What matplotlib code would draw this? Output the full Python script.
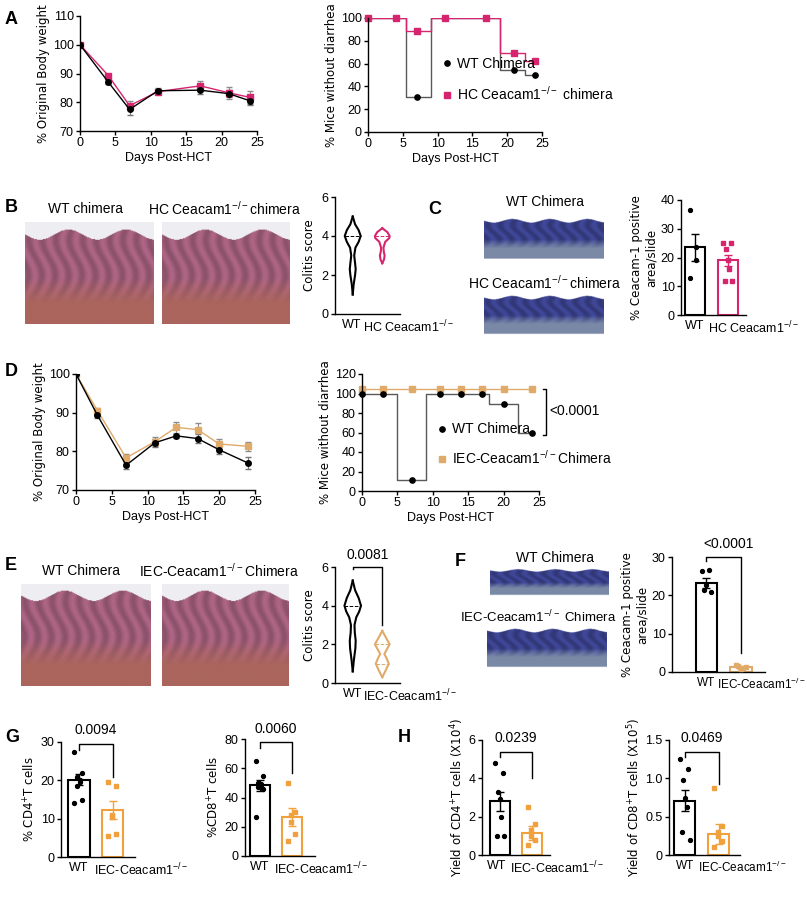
import numpy as np
import matplotlib
matplotlib.use('Agg')
from matplotlib import pyplot as plt

plt.rcParams['font.family'] = ['Liberation Sans', 'DejaVu Sans']
plt.rcParams['font.size'] = 9
plt.rcParams['axes.linewidth'] = 1.0

W, H = 807, 900
PINK = '#d6246e'
TAN = '#e0aa6a'
ORANGE = '#f0a03c'
SUP = '$^{\\mathregular{-/-}}$'
KO = 'IEC-Ceacam1' + SUP
HCKO = 'HC Ceacam1' + SUP

# ---- A: body weight + diarrhea (HC) ----
a_days = [0, 4, 7, 11, 17, 21, 24]
a_wt = [100, 87, 77.5, 84, 84.2, 83, 80.5]
a_wt_err = [0, 0.7, 2.0, 0.8, 1.5, 1.3, 1.5]
a_hc = [100, 89.3, 78.8, 83.7, 85.7, 83.3, 81.7]
a_hc_err = [0, 0.6, 1.6, 1.0, 1.8, 2.0, 2.3]
a_km_t = [0, 5.5, 9, 19, 22.5, 24]
a_km_wt = [100, 31, 100, 54, 50, 50]
a_km_hc = [100, 89, 100, 69, 62.5, 62.5]
a_mk_wt = [100, 100, 31, 100, 100, 54, 50]
a_mk_hc = [100, 100, 89, 100, 100, 69, 62.5]

# ---- D: body weight + diarrhea (IEC) ----
d_days = [0, 3, 7, 11, 14, 17, 20, 24]
d_wt = [100, 89.3, 76.4, 82.2, 84, 83.3, 80.4, 77]
d_wt_err = [0, 0.6, 1.0, 1.0, 0.6, 1.2, 1.2, 1.6]
d_iec = [100, 90.5, 78.3, 82.5, 86.2, 85.6, 81.9, 81.3]
d_iec_err = [0, 0.8, 1.1, 1.2, 1.4, 1.8, 1.4, 1.2]
d_km_t = [0, 5, 9, 18, 22, 24]
d_km_wt = [100, 11, 100, 89, 59, 59]
d_km_iec = [105, 105, 105, 105, 105, 105]
d_mk_wt = [100, 100, 11, 100, 100, 100, 89, 59]
d_mk_iec = [105] * 8

# ---- violin outlines (level, half width) ----
b_wt_y = [1.0, 1.5, 2.0, 2.3, 2.6, 3.0, 3.4, 3.7, 4.0, 4.3, 4.6, 5.0]
b_wt_w = [0, 0.03, 0.08, 0.1, 0.08, 0.05, 0.09, 0.2, 0.27, 0.2, 0.08, 0]
b_hc_y = [2.6, 2.8, 3.0, 3.2, 3.4, 3.7, 3.9, 4.0, 4.2, 4.4]
b_hc_w = [0, 0.06, 0.08, 0.05, 0.04, 0.1, 0.24, 0.25, 0.17, 0]
e_wt_y = [0.6, 1.2, 1.8, 2.2, 2.6, 3.0, 3.4, 3.7, 4.0, 4.4, 4.8, 5.3]
e_wt_w = [0, 0.04, 0.09, 0.1, 0.07, 0.06, 0.12, 0.22, 0.28, 0.2, 0.08, 0]
e_iec_y = [0.3, 0.6, 1.0, 1.3, 1.5, 1.7, 2.0, 2.3, 2.7]
e_iec_w = [0, 0.1, 0.22, 0.14, 0.07, 0.14, 0.25, 0.14, 0]

# ---- bar panels: mean, sem, points ----
c_mean, c_sem = [23.5, 19.0], [4.7, 2.0]
c_pts = [[36.5, 23.5, 19, 13], [25, 25, 23, 19, 16, 12, 12]]
f_mean, f_sem = [23.2, 1.2], [1.2, 0.3]
f_pts = [[26.3, 26.6, 22.8, 21.5, 21.0], [1.8, 1.0, 0.8, 1.5, 1.2]]
g1_mean, g1_sem = [20.2, 12.3], [1.4, 2.4]
g1_pts = [[27.5, 22, 21, 20, 19.5, 18.5, 15, 14], [19.5, 18.5, 11, 10.5, 6, 5.5]]
g2_mean, g2_sem = [48.5, 26.5], [3.8, 6.0]
g2_pts = [[65, 55, 50, 49, 48, 47, 46, 27], [50, 30, 28, 23, 15, 10]]
h1_mean, h1_sem = [2.8, 1.15], [0.5, 0.35]
h1_pts = [[4.8, 4.3, 3.3, 2.9, 2.0, 1.0, 1.0], [2.5, 1.6, 1.3, 1.0, 0.8, 0.5]]
h2_mean, h2_sem = [0.71, 0.28], [0.14, 0.13]
h2_pts = [[1.25, 1.12, 0.98, 0.75, 0.62, 0.3, 0.2], [0.88, 0.38, 0.3, 0.25, 0.18, 0.1]]

fig = plt.figure(figsize=(W / 100, H / 100), dpi=100)


def px_axes(x0, y0, x1, y1):
    return fig.add_axes([x0 / W, 1 - y1 / H, (x1 - x0) / W, (y1 - y0) / H])


def style(ax):
    for s in ('top', 'right'):
        ax.spines[s].set_visible(False)
    ax.tick_params(length=3, width=1, pad=1.5)


def ftext(x, y, s, **kw):
    fig.text(x / W, 1 - y / H, s, **kw)


def group_labels(ax, wt_x, ko_x, ko_label, fs=9):
    # WT under the first group, knockout label starting just after it
    ax.set_xticks([])
    tr = ax.get_xaxis_transform()
    ax.text(wt_x, -0.04, 'WT', transform=tr, ha='center', va='top', fontsize=fs)
    ax.text(ko_x, -0.04, ko_label, transform=tr, ha='left', va='top', fontsize=fs)


def tissue(x0, y0, x1, y1, kind):
    ax = px_axes(x0, y0, x1, y1)
    xx, yy = np.meshgrid(np.linspace(0, 1, 160), np.linspace(0, 1, 120))
    crypt = 0.5 + 0.5 * np.sin(xx * 60 + 3 * np.sin(yy * 9))
    speck = 0.5 + 0.5 * np.sin(xx * 310 + yy * 170) * np.sin(xx * 130 - yy * 270)
    if kind == 'he':
        base = np.array([0.72, 0.42, 0.55])
        low = np.array([0.88, 0.52, 0.48])
        mix = np.clip((yy - 0.55) * 4, 0, 1)[..., None]
        col = base * (1 - mix) + low * mix
        col = col * (0.8 + 0.2 * crypt[..., None] * (1 - mix)) * (0.9 + 0.1 * speck[..., None])
        edge = 0.12 + 0.05 * np.sin(xx * 14)
        img = np.where((yy < edge)[..., None], np.array([0.93, 0.93, 0.95]), col)
    else:
        top = np.array([0.25, 0.28, 0.6])
        bot = np.array([0.62, 0.7, 0.85])
        mix = np.clip((yy - 0.5) * 5, 0, 1)[..., None]
        col = top * (1 - mix) + bot * mix
        col = col * (0.8 + 0.25 * crypt[..., None] * (1 - mix)) * (0.92 + 0.08 * speck[..., None])
        edge = 0.08 + 0.04 * np.sin(xx * 20)
        img = np.where(((yy < edge) | (yy > 0.93))[..., None], np.array([1, 1, 1.0]), col)
    ax.imshow(np.clip(img, 0, 1), aspect='auto', interpolation='bilinear')
    ax.axis('off')


def km(ax, t, v, mk_t, mk_v, color, marker, label):
    ax.step(t, v, where='post', color='0.35' if color == 'k' else color, lw=1)
    ax.plot(mk_t, mk_v, ls='none', marker=marker, ms=3.8, color=color, label=label, clip_on=False)


def weight(ax, days, m1, e1, m2, e2, c2, m2k):
    ax.errorbar(days, m2, yerr=e2, color=c2, marker=m2k, ms=4, lw=1, capsize=2, elinewidth=0.8, ecolor='0.55')
    ax.errorbar(days, m1, yerr=e1, color='k', marker='o', ms=4, lw=1, capsize=2, elinewidth=0.8, ecolor='0.45')
    ax.set_xlim(0, 25)
    ax.set_xticks([0, 5, 10, 15, 20, 25])
    ax.set_xlabel('Days Post-HCT', labelpad=2)
    ax.set_ylabel('% Original Body weight', family='DejaVu Sans', fontsize=8.5, labelpad=2)
    style(ax)


def violin(ax, ys, ws, pos, color, dashes):
    ys = np.array(ys)
    ws = np.array(ws)
    ax.plot(pos + ws, ys, color=color, lw=1.5)
    ax.plot(pos - ws, ys, color=color, lw=1.5)
    for d in dashes:
        w = np.interp(d, ys, ws)
        ax.plot([pos - w, pos + w], [d, d], color=color, ls='--', lw=0.7)


def bars(ax, means, sems, pts, c2, xlim, ylim, yticks, ylabel):
    cols = ['k', c2]
    for i in range(2):
        ax.bar(i, means[i], width=0.62, facecolor='white', edgecolor=cols[i], lw=1.5, zorder=1)
        ax.errorbar(i, means[i], yerr=sems[i], color=cols[i], capsize=3, lw=1, zorder=3)
        n = len(pts[i])
        offs = np.linspace(-0.14, 0.14, n)
        sign = np.array([1 if k % 2 else -1 for k in range(n)])
        ax.plot(i + offs[::-1] * sign, pts[i], ls='none', marker='o' if i == 0 else 's', ms=2.8,
                color=cols[i], zorder=4, clip_on=False)
    ax.set_xlim(*xlim)
    ax.set_ylim(*ylim)
    ax.set_yticks(yticks)
    ax.set_ylabel(ylabel, labelpad=2, family='DejaVu Sans', fontsize=8.5)
    style(ax)


# panel letters
for lab, x, y in [('A', 5, 20), ('B', 5, 207), ('C', 428, 210), ('D', 5, 372),
                  ('E', 5, 565), ('F', 455, 562), ('G', 5, 737), ('H', 398, 737)]:
    ftext(x, y, lab, fontsize=13, fontweight='bold', va='center')

# A
ax = px_axes(80, 16, 257, 131)
weight(ax, a_days, a_wt, a_wt_err, a_hc, a_hc_err, PINK, 's')
ax.set_ylim(70, 110)
ax.set_yticks([70, 80, 90, 100, 110])

ax = px_axes(368, 18, 542, 132)
km(ax, a_km_t, a_km_wt, a_days, a_mk_wt, 'k', 'o', 'WT Chimera')
km(ax, a_km_t, a_km_hc, a_days, a_mk_hc, PINK, 's', 'HC Ceacam1' + SUP + ' chimera')
ax.set_xlim(0, 25)
ax.set_ylim(0, 100)
ax.set_xticks([0, 5, 10, 15, 20, 25])
ax.set_yticks([0, 20, 40, 60, 80, 100])
ax.set_xlabel('Days Post-HCT', labelpad=2)
ax.set_ylabel('% Mice without diarrhea', family='DejaVu Sans', fontsize=8.5, labelpad=2)
ax.legend(loc='lower left', bbox_to_anchor=(0.36, 0.15), frameon=False, handlelength=0.6,
          handletextpad=0.4, labelspacing=1.0, fontsize=10)
style(ax)

# B
ftext(85, 209, 'WT chimera', ha='center', va='center', fontsize=10)
ftext(225, 209, 'HC Ceacam1' + SUP + 'chimera', ha='center', va='center', fontsize=10)
tissue(25, 222, 154, 324, 'he')
tissue(162, 222, 290, 324, 'he')
ax = px_axes(335, 197, 400, 314)
violin(ax, b_wt_y, b_wt_w, 0, 'k', [4.0])
violin(ax, b_hc_y, b_hc_w, 1, PINK, [4.0])
ax.set_xlim(-0.6, 1.6)
ax.set_ylim(0, 6)
ax.set_yticks([0, 2, 4, 6])
ax.set_ylabel('Colitis score', family='DejaVu Sans', fontsize=8.5)
style(ax)
group_labels(ax, -0.05, 0.35, HCKO)

# C
ftext(545, 202, 'WT Chimera', ha='center', va='center', fontsize=10)
ftext(545, 283, 'HC Ceacam1' + SUP + 'chimera', ha='center', va='center', fontsize=10)
tissue(484, 217, 604, 262, 'ihc')
tissue(484, 294, 604, 337, 'ihc')
ax = px_axes(681, 200, 746, 315)
bars(ax, c_mean, c_sem, c_pts, PINK, (-0.42, 1.55), (0, 40), [0, 10, 20, 30, 40],
     '% Ceacam-1 positive\narea/slide')
group_labels(ax, 0, 0.4, HCKO)

# D
ax = px_axes(76, 374, 255, 490)
weight(ax, d_days, d_wt, d_wt_err, d_iec, d_iec_err, TAN, 's')
ax.set_ylim(70, 100)
ax.set_yticks([70, 80, 90, 100])

ax = px_axes(362, 374, 539, 491)
km(ax, d_km_t, d_km_iec, d_days, d_mk_iec, TAN, 's', 'IEC-Ceacam1' + SUP + 'Chimera')
km(ax, d_km_t, d_km_wt, d_days, d_mk_wt, 'k', 'o', 'WT Chimera')
ax.set_xlim(0, 25)
ax.set_ylim(0, 120)
ax.set_xticks([0, 5, 10, 15, 20, 25])
ax.set_yticks([0, 20, 40, 60, 80, 100, 120])
ax.set_xlabel('Days Post-HCT', labelpad=2)
ax.set_ylabel('% Mice without diarrhea', family='DejaVu Sans', fontsize=8.5, labelpad=2)
hs, ls = ax.get_legend_handles_labels()
ax.legend(hs[::-1], ls[::-1], loc='lower left', bbox_to_anchor=(0.36, 0.1), frameon=False,
          handlelength=0.6, handletextpad=0.4, labelspacing=0.9, fontsize=10)
ax.plot([25.5, 26, 26, 25.5], [105, 105, 57, 57], color='k', lw=1, clip_on=False)
ax.text(26.5, 82, '<0.0001', va='center', fontsize=10)
style(ax)

# E
ftext(81, 571, 'WT Chimera', ha='center', va='center', fontsize=10)
ftext(219, 571, 'IEC-Ceacam1' + SUP + 'Chimera', ha='center', va='center', fontsize=10)
tissue(21, 584, 151, 686, 'he')
tissue(162, 584, 289, 686, 'he')
ax = px_axes(335, 567, 400, 683)
violin(ax, e_wt_y, e_wt_w, 0, 'k', [4.0])
violin(ax, e_iec_y, e_iec_w, 1, TAN, [2.0, 1.0])
ax.set_xlim(-0.6, 1.6)
ax.set_ylim(0, 6)
ax.set_yticks([0, 2, 4, 6])
ax.set_ylabel('Colitis score', family='DejaVu Sans', fontsize=8.5)
style(ax)
group_labels(ax, 0, 0.35, KO)
ax.plot([0, 0, 1, 1], [5.9, 6.0, 6.0, 3.0], color='k', lw=1, clip_on=False)
ax.text(0.5, 6.25, '0.0081', ha='center', va='bottom', fontsize=10)

# F
ftext(555, 558, 'WT Chimera', ha='center', va='center', fontsize=10)
ftext(538, 617, 'IEC-Ceacam1' + SUP + ' Chimera', ha='center', va='center', fontsize=9.5)
tissue(490, 568, 609, 597, 'ihc')
tissue(487, 628, 607, 670, 'ihc')
ax = px_axes(672, 557, 765, 672)
bars(ax, f_mean, f_sem, f_pts, TAN, (-1.0, 1.7), (0, 30), [0, 10, 20, 30],
     '% Ceacam-1 positive\narea/slide')
group_labels(ax, 0, 0.3, KO, fs=8.5)
ax.plot([0, 0, 1, 1], [29, 30, 30, 5], color='k', lw=1, clip_on=False)
ax.text(0.65, 31.5, '<0.0001', ha='center', va='bottom', fontsize=10)

# G
ax = px_axes(61, 742, 135, 857)
bars(ax, g1_mean, g1_sem, g1_pts, ORANGE, (-0.53, 1.65), (0, 30), [0, 10, 20, 30],
     '% CD4$^{+}$T cells')
group_labels(ax, 0, 0.45, KO)
ax.plot([0, 0, 1, 1], [28, 29.5, 29.5, 21], color='k', lw=1, clip_on=False)
ax.text(0.5, 31.3, '0.0094', ha='center', va='bottom', fontsize=10)

ax = px_axes(245, 739, 315, 856)
bars(ax, g2_mean, g2_sem, g2_pts, ORANGE, (-0.47, 1.72), (0, 80), [0, 20, 40, 60, 80],
     '%CD8$^{+}$T cells')
group_labels(ax, 0, 0.45, KO)
ax.plot([0, 0, 1, 1], [74, 78, 78, 57], color='k', lw=1, clip_on=False)
ax.text(0.5, 82, '0.0060', ha='center', va='bottom', fontsize=10)

# H
ax = px_axes(482, 740, 550, 855)
bars(ax, h1_mean, h1_sem, h1_pts, ORANGE, (-0.56, 1.56), (0, 6), [0, 2, 4, 6],
     'Yield of CD4$^{+}$T cells (X10$^{4}$)')
group_labels(ax, -0.1, 0.3, KO)
ax.plot([0, 0, 1, 1], [5.1, 5.4, 5.4, 4.0], color='k', lw=1, clip_on=False)
ax.text(0.5, 5.75, '0.0239', ha='center', va='bottom', fontsize=10)

ax = px_axes(669, 740, 740, 855)
bars(ax, h2_mean, h2_sem, h2_pts, ORANGE, (-0.47, 1.62), (0, 1.5), [0, 0.5, 1.0, 1.5],
     'Yield of CD8$^{+}$T cells (X10$^{5}$)')
ax.set_yticklabels(['0', '0.5', '1.0', '1.5'])
group_labels(ax, 0, 0.38, KO, fs=8.5)
ax.plot([0, 0, 1, 1], [1.28, 1.35, 1.35, 0.93], color='k', lw=1, clip_on=False)
ax.text(0.5, 1.44, '0.0469', ha='center', va='bottom', fontsize=10)

fig.savefig('out.png', dpi=100)
